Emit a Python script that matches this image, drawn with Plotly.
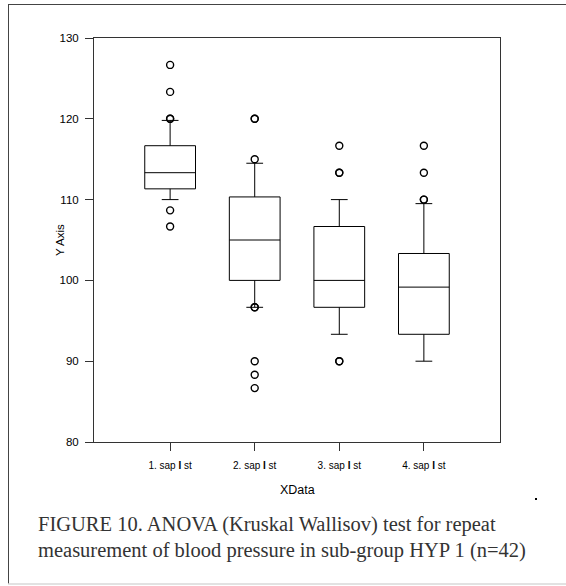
import plotly.graph_objects as go

# ---- data ----
categories = [1, 2, 3, 4]
tick_labels = ["1. sap <b>I</b> st", "2. sap <b>I</b> st", "3. sap <b>I</b> st", "4. sap <b>I</b> st"]
y_ticks = [80, 90, 100, 110, 120, 130]
lower_whisker = [110.0, 96.67, 93.33, 90.0]
q1_vals = [111.33, 100.0, 96.67, 93.33]
median_vals = [113.33, 105.0, 100.0, 99.17]
q3_vals = [116.67, 110.33, 106.67, 103.33]
upper_whisker = [119.8, 114.5, 110.0, 109.5]

outliers_1 = [126.67, 123.33, 120.0, 120.0, 108.67, 106.67]
outliers_2 = [120.0, 120.0, 115.0, 96.67, 96.67, 90.0, 88.33, 86.67]
outliers_3 = [116.67, 113.33, 113.33, 90.0, 90.0]
outliers_4 = [116.67, 113.33, 110.0, 110.0]
outliers = [outliers_1, outliers_2, outliers_3, outliers_4]

x_title = "XData"
y_title = "Y Axis"
caption_1 = "FIGURE 10. ANOVA (Kruskal Wallisov) test for repeat"
caption_2 = "measurement of blood pressure in sub-group HYP 1 (n=42)"

# ---- geometry ----
W, H = 566, 586
L, R, T, B = 94, 500, 38, 442


def px(x):
    return (x - L) / (R - L)


def py(y):
    return (B - y) / (B - T)


fig = go.Figure()

fig.add_trace(go.Box(
    x=categories,
    q1=q1_vals,
    median=median_vals,
    q3=q3_vals,
    lowerfence=lower_whisker,
    upperfence=upper_whisker,
    width=0.6,
    whiskerwidth=0.33,
    fillcolor="white",
    line=dict(color="black", width=1),
    boxpoints=False,
    showlegend=False,
    hoverinfo="skip",
))

for cat, pts in zip(categories, outliers):
    fig.add_trace(go.Scatter(
        x=[cat] * len(pts),
        y=pts,
        mode="markers",
        marker=dict(symbol="circle-open", size=7, color="black",
                    line=dict(width=1.4, color="black")),
        showlegend=False,
        hoverinfo="skip",
    ))

fig.update_xaxes(
    range=[0.1, 4.9],
    tickvals=categories,
    ticktext=tick_labels,
    ticks="outside",
    ticklen=8,
    tickwidth=1,
    tickcolor="#333",
    ticklabelstandoff=6,
    showline=True,
    linecolor="#333",
    linewidth=1,
    mirror=True,
    showgrid=False,
    zeroline=False,
    tickfont=dict(family="Liberation Sans, Arial", size=10, color="black"),
)
fig.update_yaxes(
    range=[80, 130],
    tickvals=y_ticks,
    ticks="outside",
    ticklen=8,
    tickwidth=1,
    tickcolor="#333",
    ticklabelstandoff=4,
    showline=True,
    linecolor="#333",
    linewidth=1,
    mirror=True,
    showgrid=False,
    zeroline=False,
    tickfont=dict(family="Liberation Sans, Arial", size=11.5, color="black"),
)

shapes = [
    # outer frame: left, top (dark), bottom (light)
    dict(type="line", xref="paper", yref="paper", x0=px(8.5), x1=px(8.5), y0=py(4), y1=py(584),
         line=dict(color="#444", width=1)),
    dict(type="line", xref="paper", yref="paper", x0=px(8), x1=px(566), y0=py(4.5), y1=py(4.5),
         line=dict(color="#444", width=1)),
    dict(type="line", xref="paper", yref="paper", x0=px(8), x1=px(566), y0=py(584), y1=py(584),
         line=dict(color="#d8d8d8", width=1.5)),
    dict(type="rect", xref="paper", yref="paper", x0=px(535), x1=px(537), y0=py(498), y1=py(500),
         fillcolor="black", line=dict(width=0)),
]

sans = "Liberation Sans, Arial"
serif = "Liberation Serif, Times New Roman"
annotations = [
    dict(text=x_title, xref="paper", yref="paper", x=0.5, y=py(490), xanchor="center", yanchor="middle",
         showarrow=False, font=dict(family=sans, size=12.5, color="black")),
    dict(text=y_title, xref="paper", yref="paper", x=px(60), y=0.5, xanchor="center", yanchor="middle",
         textangle=-90, showarrow=False, font=dict(family=sans, size=11.5, color="black")),
    dict(text=caption_1, xref="paper", yref="paper", x=px(36), y=py(524), xanchor="left", yanchor="middle",
         showarrow=False, font=dict(family=serif, size=20.5, color="#333")),
    dict(text=caption_2, xref="paper", yref="paper", x=px(36), y=py(550), xanchor="left", yanchor="middle",
         showarrow=False, font=dict(family=serif, size=20.5, color="#333")),
]

fig.update_layout(
    width=W, height=H,
    margin=dict(l=L, r=W - R, t=T, b=H - B),
    paper_bgcolor="white",
    plot_bgcolor="white",
    shapes=shapes,
    annotations=annotations,
    showlegend=False,
)

fig.write_html("out.html")
